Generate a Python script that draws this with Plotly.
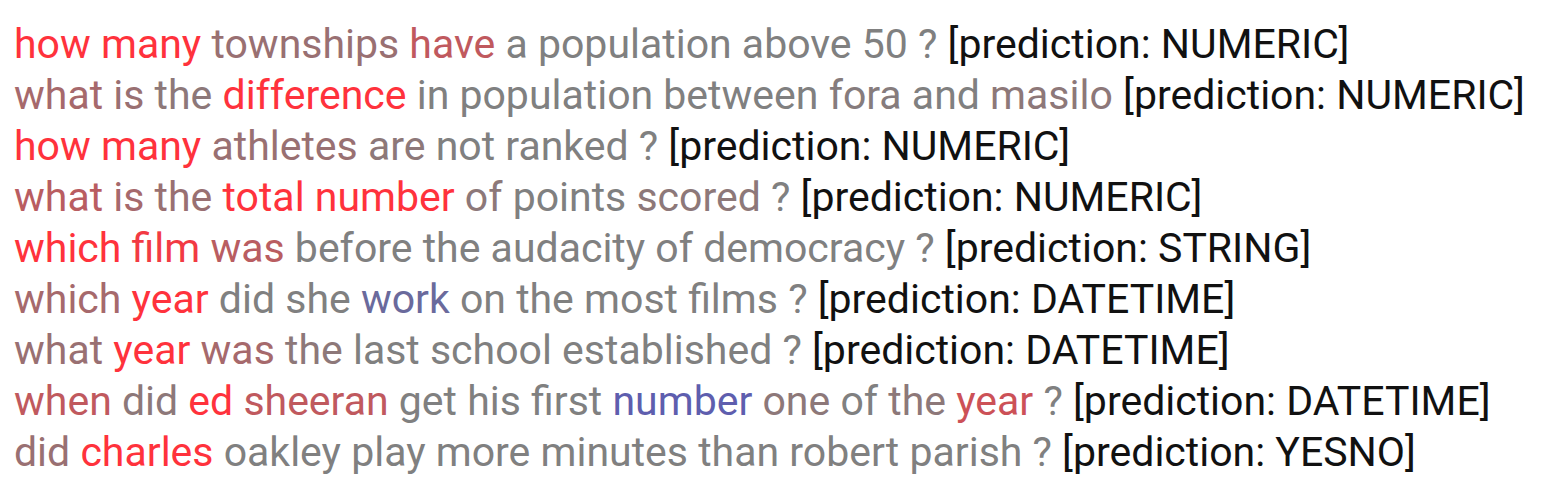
import plotly.graph_objects as go

sentences = [
    "how many townships have a population above 50 ?",
    "what is the difference in population between fora and masilo",
    "how many athletes are not ranked ?",
    "what is the total number of points scored ?",
    "which film was before the audacity of democracy ?",
    "which year did she work on the most films ?",
    "what year was the last school established ?",
    "when did ed sheeran get his first number one of the year ?",
    "did charles oakley play more minutes than robert parish ?",
]
weights = [
    [1, 1, 0.2, 0.5, 0, 0, 0, 0, 0],
    [0.3, 0.2, 0.1, 1, 0, 0, 0, 0.05, 0, 0.1],
    [1, 1, 0.2, 0.1, 0, 0, 0],
    [0.45, 0.3, 0.2, 1, 1, 0.1, 0, 0.1, 0],
    [1, 0.9, 0.45, 0, 0, 0, 0, 0, 0],
    [0.3, 1, 0, 0, -0.5, 0, 0, 0, 0, 0],
    [0.2, 1, 0.3, 0.1, 0, 0, 0, 0],
    [0.5, 0.1, 1, 0.5, 0, 0, 0, -0.8, 0.1, 0, 0.1, 0.6, 0],
    [0.2, 1, 0, 0, 0, 0, 0, 0, 0, 0],
]
predictions = ["NUMERIC", "NUMERIC", "NUMERIC", "NUMERIC", "STRING",
               "DATETIME", "DATETIME", "DATETIME", "YESNO"]

GRAY = (128, 128, 128)
RED = (255, 50, 60)
BLUE = (85, 85, 185)

def col(w):
    tgt = RED if w >= 0 else BLUE
    a = min(abs(w), 1)
    c = [round(g + (t - g) * a) for g, t in zip(GRAY, tgt)]
    return "rgb(%d,%d,%d)" % tuple(c)

fig = go.Figure()
W, H = 1556, 480
y0, dy = 36, 51
for i, (s, ws, p) in enumerate(zip(sentences, weights, predictions)):
    parts = [f"<span style='color:{col(w)}'>{t}</span>" for t, w in zip(s.split(), ws)]
    txt = " ".join(parts) + f" <span style='color:#111111'>[prediction: {p}]</span>"
    fig.add_annotation(x=0, y=1 - (y0 + i * dy) / H, xref="paper", yref="paper",
                       xanchor="left", yanchor="middle", text=txt, showarrow=False,
                       xshift=5, borderpad=0,
                       font=dict(family="Roboto", size=41, color="#808080"))

fig.update_layout(width=W, height=H, margin=dict(l=0, r=0, t=0, b=0),
                  paper_bgcolor="white", plot_bgcolor="white",
                  xaxis=dict(visible=False), yaxis=dict(visible=False))
fig.write_html("out.html")
